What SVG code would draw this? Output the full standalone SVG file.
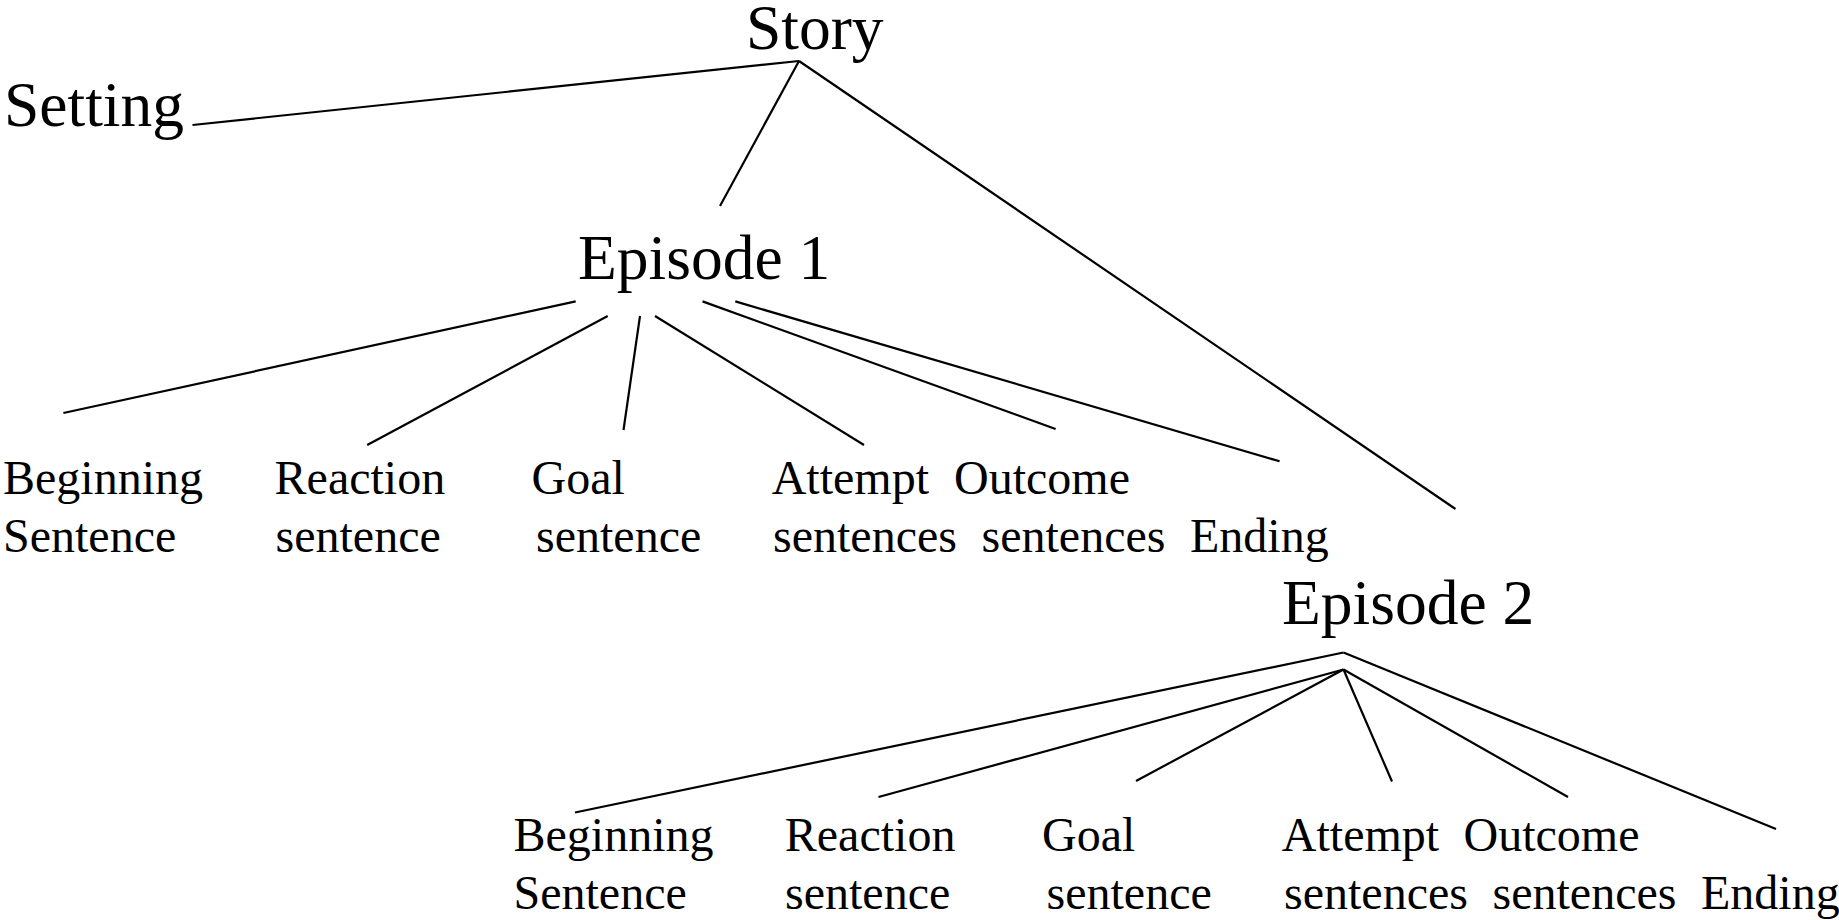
<svg xmlns="http://www.w3.org/2000/svg" width="1839" height="920" viewBox="0 0 1839 920">
<style>
.big{font-family:"Liberation Serif","Times New Roman",serif;font-size:63.5px;fill:#000}
.lbl{font-family:"Liberation Serif","Times New Roman",serif;font-size:48px;fill:#000}
.conn line{stroke:#000;stroke-width:2.2;stroke-linecap:butt}
</style>
<rect width="1839" height="920" fill="#fff"/>
<g id="connectors" class="conn">
<line x1="799" y1="61" x2="192.5" y2="125"/>
<line x1="799" y1="61" x2="720" y2="206"/>
<line x1="799" y1="61" x2="1455.5" y2="509"/>
<line x1="575.7" y1="301.4" x2="63.4" y2="413"/>
<line x1="607.7" y1="316" x2="367.2" y2="445"/>
<line x1="640" y1="316" x2="623.5" y2="430"/>
<line x1="655" y1="316" x2="864" y2="445"/>
<line x1="702.5" y1="301.4" x2="1055.6" y2="429"/>
<line x1="735.3" y1="301.4" x2="1279.6" y2="461.3"/>
<line x1="1343.5" y1="652.5" x2="575" y2="812.5"/>
<line x1="1343.5" y1="652.5" x2="1776" y2="829"/>
<line x1="1343.5" y1="669.5" x2="878.5" y2="797"/>
<line x1="1343.5" y1="669.5" x2="1136" y2="781"/>
<line x1="1343.5" y1="669.5" x2="1392" y2="781.5"/>
<line x1="1343.5" y1="669.5" x2="1568" y2="797"/>
</g>
<g id="story"><text class="big" x="746" y="49">Story</text></g>
<g id="setting"><text class="big" x="4" y="126">Setting</text></g>
<g id="episode1"><text class="big" x="578" y="279">Episode 1</text></g>
<g id="episode2"><text class="big" x="1282" y="624">Episode 2</text></g>
<g id="e1-beginning"><text class="lbl"><tspan x="3" y="494">Beginning</tspan><tspan x="3" y="552">Sentence</tspan></text></g>
<g id="e1-reaction"><text class="lbl"><tspan x="274.6" y="494">Reaction</tspan><tspan x="275.5" y="552">sentence</tspan></text></g>
<g id="e1-goal"><text class="lbl"><tspan x="531.5" y="494">Goal</tspan><tspan x="536" y="552">sentence</tspan></text></g>
<g id="e1-attempt"><text class="lbl"><tspan x="771.7" y="494">Attempt</tspan><tspan x="773" y="552">sentences</tspan></text></g>
<g id="e1-outcome"><text class="lbl"><tspan x="954" y="494">Outcome</tspan><tspan x="981.5" y="552">sentences</tspan></text></g>
<g id="e1-ending"><text class="lbl"><tspan x="1190" y="552">Ending</tspan></text></g>
<g id="e2-beginning"><text class="lbl"><tspan x="513.5" y="851">Beginning</tspan><tspan x="513.5" y="909">Sentence</tspan></text></g>
<g id="e2-reaction"><text class="lbl"><tspan x="784.8" y="851">Reaction</tspan><tspan x="785" y="909">sentence</tspan></text></g>
<g id="e2-goal"><text class="lbl"><tspan x="1042" y="851">Goal</tspan><tspan x="1046.5" y="909">sentence</tspan></text></g>
<g id="e2-attempt"><text class="lbl"><tspan x="1281.8" y="851">Attempt</tspan><tspan x="1284" y="909">sentences</tspan></text></g>
<g id="e2-outcome"><text class="lbl"><tspan x="1463.5" y="851">Outcome</tspan><tspan x="1492.5" y="909">sentences</tspan></text></g>
<g id="e2-ending"><text class="lbl"><tspan x="1701" y="909">Ending</tspan></text></g>
</svg>
